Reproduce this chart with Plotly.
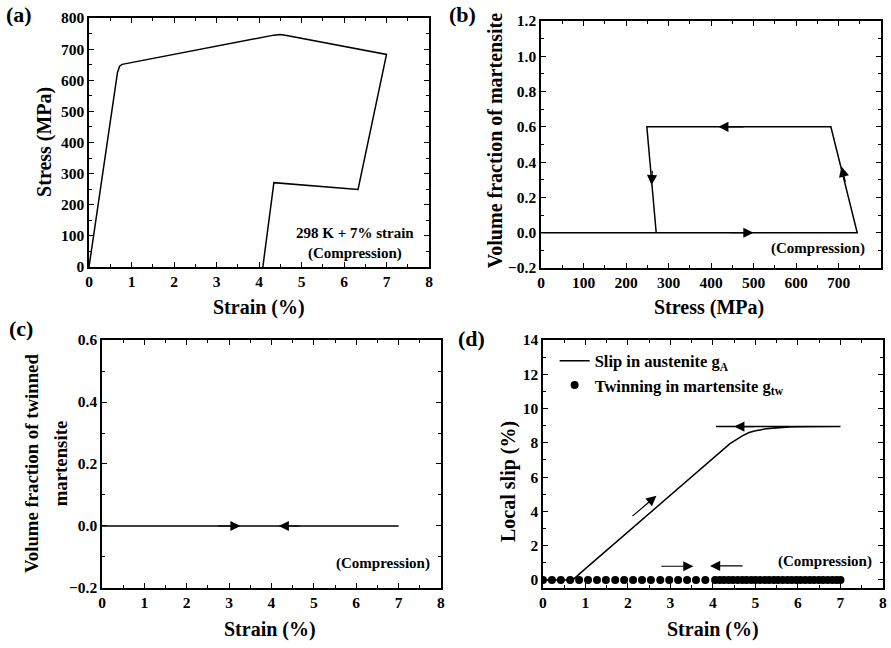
import plotly.graph_objects as go

# ---- data ----
# (a) stress-strain
a_strain = [0, 0.67, 0.72, 0.78, 4.35, 4.5, 4.65, 7.0, 6.33, 4.35, 4.09]
a_stress = [0, 625, 645, 651, 745, 747, 744, 683, 249, 271, 0]
# (b) volume fraction of martensite vs stress
b_stress = [0, 744, 682, 249, 271]
b_frac = [0, 0, 0.6, 0.6, 0]
# (c) twinned martensite
c_strain = [0, 7.0, 2.5]
c_frac = [0, 0, 0]
# (d) local slip
d_strain = [0, 0.7, 1.0, 2.0, 3.0, 4.0, 4.4, 4.56, 4.7, 4.85, 5.0, 5.25, 5.5, 5.8, 6.2, 7.0, 4.07]
d_slipA = [0, 0, 0.66, 2.82, 4.98, 7.14, 7.95, 8.2, 8.42, 8.6, 8.7, 8.82, 8.88, 8.92, 8.94, 8.95, 8.95]
d_tw_strain = [0, 0.21, 0.42, 0.64, 0.85, 1.06, 1.27, 1.48, 1.70, 1.91, 2.12, 2.33, 2.54,
               2.76, 2.97, 3.18, 3.39, 3.60, 3.82,
               4.05, 4.16, 4.26, 4.37, 4.47, 4.58, 4.69, 4.79, 4.90, 5.00, 5.11, 5.22,
               5.32, 5.43, 5.53, 5.64, 5.75, 5.85, 5.96, 6.06, 6.17, 6.28, 6.38, 6.49,
               6.59, 6.70, 6.81, 6.91, 7.0]
d_tw = [0] * len(d_tw_strain)

FONT = "Liberation Serif"
BLACK = "#000000"

fig = go.Figure()

fig.add_trace(go.Scatter(x=a_strain, y=a_stress, mode="lines", line=dict(color=BLACK, width=1.5),
                         xaxis="x", yaxis="y", showlegend=False))
fig.add_trace(go.Scatter(x=b_stress, y=b_frac, mode="lines", line=dict(color=BLACK, width=1.5),
                         xaxis="x2", yaxis="y2", showlegend=False))
fig.add_trace(go.Scatter(x=c_strain, y=c_frac, mode="lines", line=dict(color=BLACK, width=1.5),
                         xaxis="x3", yaxis="y3", showlegend=False))
fig.add_trace(go.Scatter(x=d_strain, y=d_slipA, mode="lines", line=dict(color=BLACK, width=1.5),
                         xaxis="x4", yaxis="y4", name="Slip in austenite g<sub>A</sub>", showlegend=True))
fig.add_trace(go.Scatter(x=d_tw_strain, y=d_tw, mode="markers", marker=dict(color=BLACK, size=8),
                         xaxis="x4", yaxis="y4", name="Twinning in martensite g<sub>tw</sub>", showlegend=True))

tickfont = dict(family=FONT, size=15.5, color=BLACK, weight="bold")

def ax(domain, rng, dtick, minor, anchor, tickformat=None):
    d = dict(domain=domain, range=rng, dtick=dtick, tick0=0, ticks="inside", ticklen=5,
             tickwidth=1.2, tickcolor=BLACK, showline=True, linecolor=BLACK, linewidth=1.5,
             mirror="ticks", showgrid=False, zeroline=False, tickfont=tickfont, automargin=False,
             minor=dict(dtick=minor, ticks="inside", ticklen=3, tickcolor=BLACK, showgrid=False),
             anchor=anchor)
    if tickformat:
        d["tickformat"] = tickformat
    return d

fig.update_layout(
    width=891, height=648, margin=dict(l=0, r=0, t=0, b=0, autoexpand=False),
    paper_bgcolor="white", plot_bgcolor="white",
    font=dict(family=FONT, color=BLACK),
    xaxis=ax([0.0999, 0.4815], [0, 8], 1, 0.5, "y"),
    yaxis=ax([0.588, 0.9722], [0, 800], 100, 50, "x"),
    xaxis2=ax([0.6072, 0.9888], [0, 800], 100, 50, "y2"),
    yaxis2=ax([0.5864, 0.9676], [-0.2, 1.2], 0.2, 0.1, "x2", ".1f"),
    xaxis3=ax([0.1145, 0.4949], [0, 8], 1, 0.5, "y3"),
    yaxis3=ax([0.0926, 0.4753], [-0.2, 0.6], 0.2, 0.1, "x3", ".1f"),
    xaxis4=ax([0.6094, 0.991], [0, 8], 1, 0.5, "y4"),
    yaxis4=ax([0.0926, 0.4753], [-0.47, 14], 2, 1, "x4"),
    legend=dict(x=0.6225, y=0.47, xanchor="left", yanchor="top", bgcolor="rgba(0,0,0,0)",
                font=dict(family=FONT, size=16.5, color=BLACK, weight="bold"),
                tracegroupgap=0, itemwidth=30),
)

ann = []
# panel labels
plab = dict(family=FONT, size=22, color=BLACK)
for txt, x, y in [("(a)", 0.004, 1.0), ("(b)", 0.502, 1.0), ("(c)", 0.008, 0.515), ("(d)", 0.512, 0.5)]:
    ann.append(dict(text="<b>%s</b>" % txt, x=x, y=y, xref="paper", yref="paper", xanchor="left",
                    yanchor="top", showarrow=False, font=plab))

# axis titles
tf = dict(family=FONT, size=20, color=BLACK)
tf2 = dict(family=FONT, size=18.8, color=BLACK)
for txt, x, y, ang, f in [
    ("Strain (%)", 0.2907, 0.5247, 0, tf),
    ("Stress (MPa)", 0.0505, 0.781, -90, tf),
    ("Stress (MPa)", 0.7957, 0.5247, 0, tf),
    ("Volume fraction of martensite", 0.5556, 0.782, -90, tf),
    ("Strain (%)", 0.303, 0.0293, 0, tf),
    ("Volume fraction of twinned", 0.036, 0.284, -90, tf2),
    ("martensite", 0.0673, 0.285, -90, tf2),
    ("Strain (%)", 0.8002, 0.0293, 0, tf),
    ("Local slip (%)", 0.5701, 0.2577, -90, tf),
]:
    ann.append(dict(text="<b>%s</b>" % txt, x=x, y=y, xref="paper", yref="paper", xanchor="center",
                    yanchor="middle", textangle=ang, showarrow=False, font=f))

note = dict(family=FONT, size=15, color=BLACK)
ann.append(dict(text="<b>298 K + 7% strain<br>(Compression)</b>", x=6.25, y=140, xref="x", yref="y",
                xanchor="center", yanchor="top", showarrow=False, font=note))
ann.append(dict(text="<b>(Compression)</b>", x=652, y=-0.087, xref="x2", yref="y2",
                xanchor="center", yanchor="middle", showarrow=False, font=note))
ann.append(dict(text="<b>(Compression)</b>", x=6.63, y=-0.12, xref="x3", yref="y3",
                xanchor="center", yanchor="middle", showarrow=False, font=note))
ann.append(dict(text="<b>(Compression)</b>", x=6.64, y=1.1, xref="x4", yref="y4",
                xanchor="center", yanchor="middle", showarrow=False, font=note))

def arrow(xr, yr, x0, y0, x1, y1):
    return dict(x=x1, y=y1, ax=x0, ay=y0, xref=xr, yref=yr, axref=xr, ayref=yr, text="",
                showarrow=True, arrowhead=2, arrowsize=1.7, arrowwidth=1.2, arrowcolor=BLACK)

# (b)
ann.append(arrow("x2", "y2", 440, 0, 500, 0))
ann.append(arrow("x2", "y2", 717, 0.28, 707, 0.375))
ann.append(arrow("x2", "y2", 480, 0.6, 417, 0.6))
ann.append(arrow("x2", "y2", 262, 0.36, 260, 0.27))
# (c)
ann.append(arrow("x3", "y3", 2.7, 0, 3.27, 0))
ann.append(arrow("x3", "y3", 4.7, 0, 4.17, 0))
# (d)
ann.append(arrow("x4", "y4", 2.07, 3.65, 2.67, 4.91))
ann.append(arrow("x4", "y4", 2.75, 0.8, 3.54, 0.8))
ann.append(arrow("x4", "y4", 4.73, 0.82, 3.93, 0.82))
ann.append(arrow("x4", "y4", 5.0, 8.95, 4.5, 8.95))
fig.update_layout(annotations=ann)

fig.write_html("out.html")
